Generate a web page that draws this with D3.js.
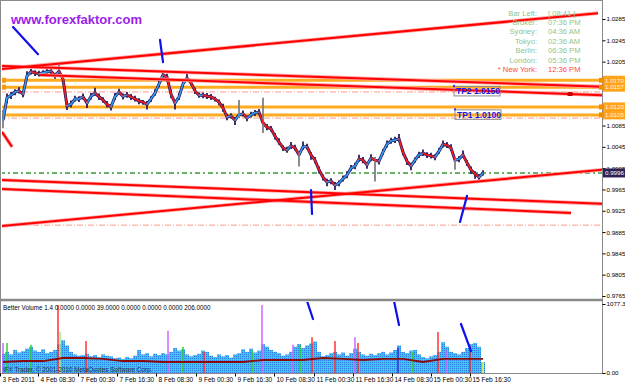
<!DOCTYPE html>
<html>
<head>
<meta charset="utf-8">
<script src="https://cdn.jsdelivr.net/npm/d3@7"></script>
<style>
  body { margin: 0; background: #fff; }
  svg { display: block; font-family: "Liberation Sans", Arial, sans-serif; }
</style>
</head>
<body>
<div id="chart"></div>
<script>
// closes, one value per bar (bars are 4px apart on screen)
const closes = [
  1.0095,1.0137,1.0142,1.0148,1.0150,1.0144,1.0178,1.0186,1.0184,1.0182,
  1.0184,1.0186,1.0187,1.0178,1.0187,1.0172,1.0122,1.0125,1.0135,1.0135,
  1.0139,1.0127,1.0140,1.0146,1.0139,1.0133,1.0125,1.0120,1.0139,1.0148,
  1.0140,1.0142,1.0139,1.0135,1.0131,1.0129,1.0125,1.0135,1.0146,1.0163,
  1.0180,1.0176,1.0144,1.0127,1.0139,1.0163,1.0174,1.0165,1.0150,1.0142,
  1.0142,1.0140,1.0139,1.0135,1.0129,1.0118,1.0101,1.0103,1.0095,1.0105,
  1.0107,1.0099,1.0105,1.0109,1.0110,1.0090,1.0082,1.0079,1.0065,1.0054,
  1.0043,1.0039,1.0047,1.0043,1.0030,1.0045,1.0045,1.0030,1.0020,1.0002,
  0.9988,0.9979,0.9981,0.9973,0.9977,0.9985,0.9992,1.0005,1.0009,1.0022,
  1.0020,1.0011,1.0024,1.0020,1.0018,1.0035,1.0050,1.0056,1.0058,1.0060,
  1.0035,1.0018,1.0009,1.0020,1.0030,1.0033,1.0030,1.0028,1.0026,1.0037,
  1.0050,1.0048,1.0043,1.0020,1.0022,1.0030,1.0015,1.0002,0.9994,0.9988,
  0.9996
];
// wick sizes in pips above / below the close
const wickUp = [
  19,8,6,5,7,6,9,6,5,6, 5,6,7,6,11,8,9,7,6,5, 6,7,6,10,6,5,6,5,7,6,
  5,6,5,6,5,4,6,5,7,8, 8,6,9,6,7,8,8,6,6,5, 5,6,5,4,5,8,6,5,6,28,
  6,5,6,5,6,47,6,5,6,7, 5,6,7,6,5,10,6,5,6,6, 5,6,5,6,5,6,7,6,6,8,
  6,5,7,6,5,6,7,6,6,9, 6,5,6,5,6,7,5,6,5,6, 7,6,7,5,6,8,5,6,5,6,
  5
];
const wickDn = [
  15,10,7,6,5,6,6,5,6,5, 6,5,6,5,6,7,8,6,5,6, 5,9,6,5,6,5,6,7,6,5,
  6,5,6,5,6,5,10,6,5,6, 5,6,8,12,6,5,6,5,6,5, 6,5,6,5,6,7,6,5,9,6,
  5,6,5,6,5,19,6,5,6,5, 6,5,6,5,22,6,5,9,6,7, 6,8,6,9,6,5,6,5,6,5,
  6,7,6,40,6,5,6,5,6,5, 6,7,8,5,6,5,6,5,6,5, 6,5,6,18,6,5,6,8,9,7,
  5
];

const volumes = [
  300,330,290,360,320,340,380,410,350,330, 370,310,330,360,450,510,430,330,290,270,
  280,300,260,280,250,290,270,260,230,240, 220,250,230,270,360,290,310,260,300,280,
  310,290,330,390,350,370,290,260,280,300, 350,330,270,250,290,260,280,240,290,310,
  370,330,380,320,350,450,410,360,330,310, 270,290,330,410,450,390,430,460,490,330,
  260,280,310,330,290,320,270,310,380,330, 290,270,300,280,310,330,290,320,360,430,
  330,310,350,360,290,250,230,260,280,330, 480,410,330,310,290,330,390,450,470,410,
  170
];
const spikeBars = [0, 1, 7, 13.75, 14.25, 20.75, 41.25, 45, 50.25, 62.25, 64.75, 72.5,
  74.25, 77.25, 83, 88, 88.75, 98.75, 102.5, 108.75, 110.75, 116.75, 120];
const spikeVals = [470, 470, 440, 1060, 640, 500, 660, 410, 330, 360, 1060, 440,
  440, 560, 500, 560, 470, 400, 330, 640, 360, 420, 170];
const spikeColors = ["#cc66ff","#33cc33","#33cc33","#ff3333","#99ee99","#ff3333","#cc66ff","#33cc33",
  "#ff3333","#33cc33","#cc66ff","#cc66ff","#33cc33","#ff3333","#ff3333","#cc66ff","#ff3333",
  "#3333cc","#33cc33","#ff3333","#cc66ff","#cc3333","#ffff33"];
// volume average, every 5th bar
const volMA = [172,187,187,234,234,219,187,187,172,172,172,172,172,203,203,203,234,219,203,219,219,172,219,219,219];

const priceTicks = [0.9765,0.9805,0.9845,0.9885,0.9925,0.9965,1.0005,1.0045,1.0085,1.0205,1.0245,1.0285];
const volTicks = [1077.3, 0];
const volTickLabels = ["1077.3", "0.00"];
const timeLabels = ["3 Feb 2011","4 Feb 08:30","7 Feb 00:30","7 Feb 16:30","8 Feb 08:30","9 Feb 00:30",
  "9 Feb 16:30","10 Feb 08:30","11 Feb 00:30","11 Feb 16:30","14 Feb 08:30","15 Feb 00:30","15 Feb 16:30"];
const timeTickBars = [-0.75, 8.75, 18.75, 28.5, 38.25, 48.25, 58, 67.75, 77.75, 87.5, 97.25, 107, 116.75];

const levelPrices = [1.0170, 1.0157, 1.0120, 1.0105];
const levelLabels = ["1.0170", "1.0157", "1.0120", "1.0105"];
const dashPrices = [1.0148, 1.0099, 0.9898];
const currentPrice = 0.9996;

const trendLines = [
  { b1: -0.75, p1: 1.0191, b2: 148.75, p2: 1.0296 },
  { b1: -0.75, p1: 1.0197, b2: 149.75, p2: 1.0158 },
  { b1: 9.25,  p1: 1.0180, b2: 149.75, p2: 1.0142 },
  { b1: -0.75, p1: 0.9983, b2: 149.75, p2: 0.9938 },
  { b1: -0.75, p1: 0.9966, b2: 142,    p2: 0.9921 },
  { b1: -0.75, p1: 0.9896, b2: 149.75, p2: 1.0002 },
  { b1: -0.25, p1: 1.0073, b2: 2.25,   p2: 1.0045 }
];
const priceMarks = [
  { b1: 2.5,    p1: 1.0270, b2: 8.75, p2: 1.0219 },
  { b1: 39.25,  p1: 1.0246, b2: 40,   p2: 1.0204 },
  { b1: 77,     p1: 0.9964, b2: 77.25, p2: 0.9919 },
  { b1: 114.25, p1: 0.9904, b2: 116,  p2: 0.9953 }
];
const volMarks = [
  { b1: 76,    v1: 1125, b2: 77.5, v2: 843 },
  { b1: 97.75, v1: 1125, b2: 99,   v2: 749 },
  { b1: 114.5, v1: 765,  b2: 117,  v2: 343 }
];
const tpLabels = [
  { bar: 112.75, price: 1.0150, text: "TP2 1.0150" },
  { bar: 113,    price: 1.0106, text: "TP1 1.0100" }
];
const clockNames = ["Bar Left:", "Broker:", "Sydney:", "Tokyo:", "Berlin:", "London:", "* New York:"];
const clockTimes = ["[ 08:41 ]", "07:36 PM", "04:36 AM", "02:36 AM", "06:36 PM", "05:36 PM", "12:36 PM"];

const pip = 0.0001;
const x = d3.scaleLinear().domain([0, 120]).range([3, 483]);
const y = d3.scaleLinear().domain([0.9765, 1.0285]).range([296, 19]);
const v = d3.scaleLinear().domain([0, 1077.3]).range([373, 304]);

const svg = d3.select("#chart").append("svg")
  .attr("width", 625)
  .attr("height", 387);

svg.append("rect").attr("width", 625).attr("height", 387).attr("fill", "#fff");

const defs = svg.append("defs");
defs.append("clipPath").attr("id", "clipMain")
  .append("rect").attr("x", 2).attr("y", 2).attr("width", 600).attr("height", 297);
defs.append("clipPath").attr("id", "clipVol")
  .append("rect").attr("x", 2).attr("y", 302).attr("width", 600).attr("height", 71);
const pat = defs.append("pattern").attr("id", "volFill")
  .attr("width", 2).attr("height", 2).attr("patternUnits", "userSpaceOnUse");
pat.append("rect").attr("width", 2).attr("height", 2).attr("fill", "#3fc4f4");
pat.append("rect").attr("width", 1).attr("height", 1).attr("fill", "#2f78e6");

const main = svg.append("g").attr("clip-path", "url(#clipMain)");
const vol = svg.append("g").attr("clip-path", "url(#clipVol)");

// dashed levels
main.selectAll(".dash").data(dashPrices).join("line")
  .attr("x1", 0).attr("x2", 602)
  .attr("y1", d => y(d)).attr("y2", d => y(d))
  .attr("stroke", "#ff9a8a").attr("stroke-width", 1)
  .attr("stroke-dasharray", "6,2,1,2");
main.append("line")
  .attr("x1", 0).attr("x2", 602)
  .attr("y1", y(currentPrice)).attr("y2", y(currentPrice))
  .attr("stroke", "#3a9a3a").attr("stroke-width", 1.6)
  .attr("stroke-dasharray", "5,3,2,3");

// orange levels
main.selectAll(".level").data(levelPrices).join("line")
  .attr("x1", 0).attr("x2", 602)
  .attr("y1", d => y(d)).attr("y2", d => y(d))
  .attr("stroke", "#ffab1f").attr("stroke-width", 3);
main.selectAll(".lsq").data(levelPrices.slice(0, 2)).join("rect")
  .attr("x", 1).attr("y", d => y(d) - 2.5).attr("width", 5).attr("height", 5)
  .attr("fill", "#f59a10");

// price bars
main.append("path")
  .datum(closes)
  .attr("d", d3.line().x((d, i) => x(i)).y(d => y(d)))
  .attr("fill", "none").attr("stroke", "#2d1f5e").attr("stroke-width", 3);
main.selectAll(".bar").data(closes).join("line")
  .attr("x1", (d, i) => x(i)).attr("x2", (d, i) => x(i))
  .attr("y1", (d, i) => y(d + wickUp[i] * pip))
  .attr("y2", (d, i) => y(d - wickDn[i] * pip))
  .attr("stroke", (d, i) => (wickUp[i] > 15 || wickDn[i] > 15) ? "#7f7f86" : "#2d1f5e")
  .attr("stroke-width", 1.8);

// moving average, coloured by direction
const segs = closes.slice(1).map((d, i) => ({ a: closes[i], b: d, i }));
main.selectAll(".ma").data(segs).join("line")
  .attr("x1", d => x(d.i)).attr("x2", d => x(d.i + 1))
  .attr("y1", d => y(d.a)).attr("y2", d => y(d.b))
  .attr("stroke", d => d.b >= d.a ? "#2f9cf2" : "#ff1a1a")
  .attr("stroke-width", 1.5).attr("stroke-linecap", "round");

// trend lines
main.selectAll(".tlShade").data(trendLines).join("line")
  .attr("x1", d => x(d.b1)).attr("x2", d => x(d.b2))
  .attr("y1", d => y(d.p1)).attr("y2", d => y(d.p2))
  .attr("stroke", "#ffa0a0").attr("stroke-width", 3.6);
main.selectAll(".tl").data(trendLines).join("line")
  .attr("x1", d => x(d.b1)).attr("x2", d => x(d.b2))
  .attr("y1", d => y(d.p1)).attr("y2", d => y(d.p2))
  .attr("stroke", "#ff0000").attr("stroke-width", 2);
main.append("rect")
  .attr("x", x(141.75) - 2.5)
  .attr("y", y(1.0180 + (1.0142 - 1.0180) * (141.75 - 9.25) / (149.75 - 9.25)) - 2)
  .attr("width", 5).attr("height", 4).attr("fill", "#cc0000");

// hand drawn blue strokes
main.selectAll(".mark").data(priceMarks).join("line")
  .attr("x1", d => x(d.b1)).attr("x2", d => x(d.b2))
  .attr("y1", d => y(d.p1)).attr("y2", d => y(d.p2))
  .attr("stroke", "#1010ee").attr("stroke-width", 2.2).attr("stroke-linecap", "round");

// TP boxes
const tp = main.selectAll(".tp").data(tpLabels).join("g")
  .attr("transform", d => `translate(${x(d.bar)},${y(d.price)})`);
tp.append("rect")
  .attr("x", 0).attr("y", -4.5).attr("width", 46).attr("height", 9.5)
  .attr("fill", "none").attr("stroke", "#8c8c8c").attr("stroke-width", 1);
tp.append("rect")
  .attr("x", -1).attr("y", -6).attr("width", 2).attr("height", 2).attr("fill", "#3030ff");
tp.append("text")
  .attr("x", 2).attr("y", 3.4)
  .attr("font-size", 8.5).attr("font-weight", "bold").attr("fill", "#1a1ae6")
  .text(d => d.text);

// clock
const clock = svg.append("g").attr("font-size", 7.6);
clock.selectAll(".cn").data(clockNames).join("text")
  .attr("x", 537).attr("y", (d, i) => 15.5 + i * 9.45)
  .attr("text-anchor", "end")
  .attr("fill", (d, i) => i === 6 ? "#ff4848" : "#8ec48e")
  .text(d => d);
clock.selectAll(".ct").data(clockTimes).join("text")
  .attr("x", 548).attr("y", (d, i) => 15.5 + i * 9.45)
  .attr("fill", (d, i) => i === 6 ? "#ff4848" : "#8ec48e")
  .text(d => d);

svg.append("text")
  .attr("x", 11).attr("y", 24)
  .attr("font-size", 13).attr("font-weight", "bold")
  .attr("fill", "#9b1de8")
  .text("www.forexfaktor.com");

// volume window
vol.selectAll(".vb").data(volumes).join("rect")
  .attr("x", (d, i) => x(i) - 2).attr("width", 4)
  .attr("y", d => v(d)).attr("height", d => v(0) - v(d))
  .attr("fill", "url(#volFill)");
vol.selectAll(".spk").data(spikeBars).join("line")
  .attr("x1", d => x(d)).attr("x2", d => x(d))
  .attr("y1", (d, i) => v(spikeVals[i])).attr("y2", v(0))
  .attr("stroke", (d, i) => spikeColors[i]).attr("stroke-width", 1.5);
vol.append("path")
  .datum(volMA)
  .attr("d", d3.line().x((d, i) => x(i * 5)).y(d => v(d)))
  .attr("fill", "none").attr("stroke", "#8b0a0a").attr("stroke-width", 1.8);
vol.append("text")
  .attr("x", 3).attr("y", 309.5).attr("font-size", 6.3).attr("fill", "#000")
  .text("Better Volume 1.4 0.0000 0.0000 39.0000 0.0000 0.0000 0.0000 206.0000");
vol.append("text")
  .attr("x", 3).attr("y", 372).attr("font-size", 6.3).attr("fill", "#333")
  .text("IFX Trader, \u00a9 2001-2010 MetaQuotes Software Corp.");
vol.selectAll(".vmark").data(volMarks).join("line")
  .attr("x1", d => x(d.b1)).attr("x2", d => x(d.b2))
  .attr("y1", d => v(d.v1)).attr("y2", d => v(d.v2))
  .attr("stroke", "#1010ee").attr("stroke-width", 2.2).attr("stroke-linecap", "round");

// frame
const frame = svg.append("g").attr("stroke", "#8a8a8a").attr("fill", "none");
frame.append("line").attr("x1", 0.5).attr("x2", 0.5).attr("y1", 0).attr("y2", 374);
frame.append("line").attr("x1", 0).attr("x2", 603).attr("y1", 0.5).attr("y2", 0.5);
frame.append("line").attr("x1", 0).attr("x2", 603).attr("y1", 300).attr("y2", 300).attr("stroke-width", 2.5);
frame.append("line").attr("x1", 0).attr("x2", 603).attr("y1", 373.5).attr("y2", 373.5);
frame.append("line").attr("x1", 602.5).attr("x2", 602.5).attr("y1", 0).attr("y2", 374);

// axes
const yAxis = svg.append("g")
  .attr("transform", "translate(602.5,0)")
  .call(d3.axisRight(y).tickValues(priceTicks).tickSize(3).tickPadding(1).tickFormat(d3.format(".4f")));
const vAxis = svg.append("g")
  .attr("transform", "translate(602.5,0)")
  .call(d3.axisRight(v).tickValues(volTicks).tickSize(3).tickPadding(1).tickFormat((d, i) => volTickLabels[i]));
const xAxis = svg.append("g")
  .attr("transform", "translate(0,373.5)")
  .call(d3.axisBottom(x).tickValues(timeTickBars).tickSize(3).tickFormat((d, i) => timeLabels[i]));
[yAxis, vAxis, xAxis].forEach(g => {
  g.select(".domain").remove();
  g.attr("font-size", 6.2).attr("font-family", null);
  g.selectAll("text").attr("fill", "#000");
});
xAxis.attr("font-size", 6.5);
xAxis.selectAll("text").attr("text-anchor", "start").attr("x", 2).attr("y", 4);

// price boxes on the axis
const box = svg.selectAll(".pbox").data(levelPrices).join("g")
  .attr("transform", d => `translate(603,${y(d)})`);
box.append("rect").attr("x", 0).attr("y", -4.5).attr("width", 22).attr("height", 9)
  .attr("fill", "#ffa41c");
box.append("rect").attr("x", -4).attr("y", -2.5).attr("width", 5).attr("height", 5)
  .attr("fill", "#f08c00");
box.append("text").attr("x", 2).attr("y", 2.3).attr("font-size", 6.2)
  .attr("fill", "#fff6d8").text((d, i) => levelLabels[i]);

const cur = svg.append("g").attr("transform", `translate(603,${y(currentPrice)})`);
cur.append("rect").attr("x", 0).attr("y", -4.5).attr("width", 22).attr("height", 9).attr("fill", "#2f2153");
cur.append("text").attr("x", 2).attr("y", 2.3).attr("font-size", 6.2).attr("fill", "#fff")
  .text(d3.format(".4f")(currentPrice));
</script>
</body>
</html>
